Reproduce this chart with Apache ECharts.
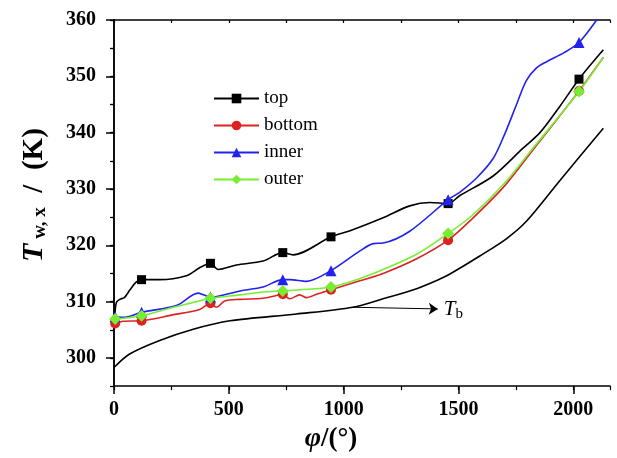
<!DOCTYPE html>
<html>
<head>
<meta charset="utf-8">
<script src="https://cdn.jsdelivr.net/npm/echarts@6/dist/echarts.min.js"></script>
<style>
  html, body { margin: 0; padding: 0; background: #fff; }
  #chart { width: 617px; height: 458px; }
</style>
</head>
<body>
<div id="chart"></div>
<script>
// data: [phi, T]
const topData = [[3, 307.0], [10, 309.8], [25, 310.4], [45, 310.7], [68, 312.0], [95, 313.4], [120, 313.9], [199, 313.9],
  [315, 314.6], [373, 316.0], [420, 316.8], [453, 315.7], [533, 316.5], [649, 317.2], [735, 318.7], [780, 318.3],
  [945, 321.5], [1028, 322.6], [1172, 324.9], [1288, 327.0], [1376, 327.6], [1455, 327.4], [1505, 328.8],
  [1651, 332.3], [1780, 337.2], [1855, 340.0], [1942, 344.7], [2025, 349.5], [2131, 354.7]]
const bottomData = [[5, 306.1], [40, 306.5], [120, 306.6], [250, 307.6], [373, 308.6], [420, 309.7], [446, 309.0],
  [482, 310.1], [548, 310.4], [649, 310.6], [708, 311.1], [735, 311.3], [765, 310.5], [809, 311.2], [838, 310.7],
  [882, 311.3], [945, 312.1], [1071, 313.7], [1172, 315.0], [1318, 317.6], [1455, 320.9], [1557, 324.6],
  [1700, 330.5], [1826, 337.0], [2025, 347.4], [2131, 353.4]]
const innerData = [[5, 307.3], [47, 307.2], [120, 308.1], [272, 309.3], [366, 311.5], [390, 311.2], [420, 310.8],
  [548, 311.9], [649, 312.6], [735, 313.9], [765, 313.9], [838, 313.6], [945, 315.5], [1071, 319.0], [1129, 320.3],
  [1172, 320.4], [1288, 322.5], [1455, 328.1], [1505, 329.4], [1580, 332.0], [1651, 335.4], [1700, 339.6],
  [1753, 345.0], [1795, 349.2], [1840, 351.5], [1884, 352.6], [1960, 354.2], [2025, 356.0], [2102, 360.0], [2160, 363.5]]
const outerData = [[5, 306.9], [120, 307.5], [250, 308.9], [359, 310.0], [420, 310.6], [548, 311.2], [649, 311.7],
  [735, 311.9], [809, 312.1], [945, 312.6], [1071, 314.1], [1172, 315.7], [1318, 318.4], [1455, 322.1],
  [1557, 325.2], [1700, 331.0], [1826, 337.3], [2025, 347.3], [2131, 353.4]]
const tbData = [[0, 298.3], [68, 300.7], [199, 303.1], [345, 305.1], [505, 306.6], [795, 307.8], [1040, 309.0],
  [1172, 310.5], [1318, 312.3], [1419, 314.0], [1463, 314.9], [1593, 318.1], [1710, 321.2], [1797, 324.3],
  [1942, 331.5], [2131, 340.8]]
const markerX = [5, 120, 420, 735, 945, 1455, 2025]
const xLabels = [0, 500, 1000, 1500, 2000]
const yLabels = [300, 310, 320, 330, 340, 350, 360]
const tbArrow = [[1040, 309.0], [1410, 308.7]]

const serif = 'Liberation Serif'
const chart = echarts.init(document.getElementById('chart'))

function markSize(size) {
  return (val) => (markerX.indexOf(val[0]) >= 0 ? size : 0)
}

function curve(name, data, color, symbol, size) {
  return {
    name: name,
    type: 'line',
    data: data,
    smooth: 0.3,
    symbol: symbol,
    symbolSize: markSize(size),
    showAllSymbol: true,
    lineStyle: { color: color, width: 1.6 },
    itemStyle: { color: color },
    z: 3
  }
}

const option = {
  animation: false,
  backgroundColor: '#fff',
  grid: { left: 114, right: 7, top: 20, bottom: 71 },
  legend: {
    data: ['top', 'bottom', 'inner', 'outer'],
    orient: 'vertical',
    left: 213,
    top: 89,
    padding: 0,
    itemWidth: 45,
    itemHeight: 12,
    itemGap: 8,
    lineStyle: { width: 2 },
    textStyle: { fontFamily: serif, fontSize: 19, color: '#000', lineHeight: 19 }
  },
  xAxis: [
    {
      type: 'value', min: 0, max: 2160, position: 'bottom',
      axisLine: { lineStyle: { color: '#000', width: 1.5 } },
      axisTick: { customValues: xLabels, length: 8, lineStyle: { color: '#000', width: 1.5 } },
      axisLabel: {
        customValues: xLabels, margin: 14, formatter: (v) => String(v),
        fontFamily: serif, fontWeight: 'bold', fontSize: 20, color: '#000'
      },
      splitLine: { show: false },
      name: '{p|φ}{r|/(°)}',
      nameLocation: 'middle',
      nameGap: 34,
      nameTextStyle: {
        padding: [0, 62, 0, 0],
        rich: {
          p: { fontFamily: serif, fontWeight: 'bold', fontStyle: 'italic', fontSize: 28, color: '#000' },
          r: { fontFamily: serif, fontWeight: 'bold', fontSize: 27, color: '#000' }
        }
      }
    },
    {
      // minor ticks under the bottom axis
      type: 'value', min: 0, max: 2160, interval: 250, position: 'bottom',
      axisLine: { show: false },
      axisTick: { length: 4, lineStyle: { color: '#000', width: 1.2 } },
      axisLabel: { show: false },
      splitLine: { show: false }
    },
    {
      type: 'value', min: 0, max: 2160, interval: 250, position: 'top',
      axisLine: { lineStyle: { color: '#000', width: 1.5 } },
      axisTick: { inside: true, length: 3, lineStyle: { color: '#000', width: 1.2 } },
      axisLabel: { show: false },
      splitLine: { show: false }
    }
  ],
  yAxis: [
    {
      type: 'value', min: 295, max: 360, position: 'left',
      axisLine: { show: true, lineStyle: { color: '#000', width: 1.5 } },
      axisTick: { show: true, customValues: yLabels, length: 8, lineStyle: { color: '#000', width: 1.5 } },
      axisLabel: { customValues: yLabels, margin: 18, fontFamily: serif, fontWeight: 'bold', fontSize: 20, color: '#000' },
      splitLine: { show: false },
      name: '{t|T}{s| w, x}{k|  /  (K)}',
      nameLocation: 'middle',
      nameGap: 64,
      nameRotate: 90,
      nameTextStyle: {
        padding: [0, 0, 0, 16],
        rich: {
          t: { fontFamily: serif, fontWeight: 'bold', fontStyle: 'italic', fontSize: 30, color: '#000' },
          s: { fontFamily: serif, fontWeight: 'bold', fontSize: 19, color: '#000', padding: [12, 0, 0, 0] },
          k: { fontFamily: serif, fontWeight: 'bold', fontSize: 29, color: '#000' }
        }
      }
    },
    {
      type: 'value', min: 295, max: 360, interval: 5, position: 'left',
      axisLine: { show: false },
      axisTick: { show: true, length: 4, lineStyle: { color: '#000', width: 1.2 } },
      axisLabel: { show: false },
      splitLine: { show: false }
    },
    {
      type: 'value', min: 295, max: 360, interval: 5, position: 'right',
      axisLine: { show: true, lineStyle: { color: '#000', width: 1.5 } },
      axisTick: { show: true, inside: true, length: 3, lineStyle: { color: '#000', width: 1.2 } },
      axisLabel: { show: false },
      splitLine: { show: false }
    }
  ],
  series: [
    curve('top', topData, '#000000', 'rect', 9),
    curve('bottom', bottomData, '#dd2222', 'circle', 10),
    curve('inner', innerData, '#2222ee', 'triangle', 11),
    curve('outer', outerData, '#77ee33', 'diamond', 12),
    {
      name: 'Tb',
      type: 'line',
      data: tbData,
      smooth: 0.3,
      showSymbol: false,
      lineStyle: { color: '#000', width: 1.6 },
      markLine: {
        silent: true,
        symbol: ['none', 'arrow'],
        symbolSize: 9,
        lineStyle: { color: '#000', width: 1, type: 'solid' },
        label: {
          show: true,
          position: 'end',
          distance: 6,
          formatter: '{t|T}{b|b}',
          rich: {
            t: { fontFamily: serif, fontStyle: 'italic', fontSize: 21, color: '#000' },
            b: { fontFamily: serif, fontSize: 15, color: '#000', padding: [10, 0, 0, 0] }
          }
        },
        data: [[{ coord: tbArrow[0] }, { coord: tbArrow[1] }]]
      }
    }
  ]
}

chart.setOption(option)
</script>
</body>
</html>
